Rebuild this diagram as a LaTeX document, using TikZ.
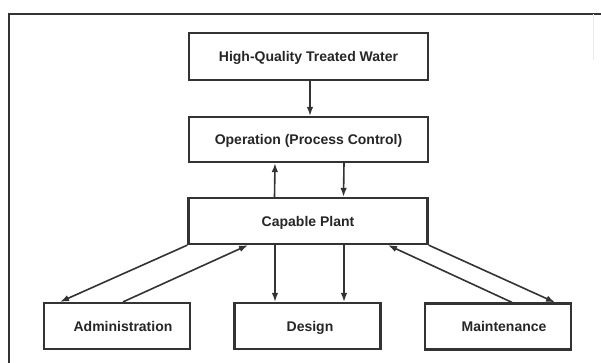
\documentclass[tikz,border=0pt]{standalone}
\usepackage{fontspec}
\setmainfont{Liberation Sans}
\usetikzlibrary{arrows.meta}
\definecolor{ink}{HTML}{333333}
\definecolor{txt}{HTML}{262626}
\begin{document}
\begin{tikzpicture}[x=1pt,y=-1pt,
  box/.style={draw=ink, line width=2.2pt, inner sep=0pt, text=txt,
    text height=10pt, text depth=0pt,
    font=\fontsize{14}{16}\selectfont\bfseries},
  topbox/.style={box, minimum width=239pt},
  lowbox/.style={box, minimum width=146pt, minimum height=46pt},
  link/.style={draw=ink, line width=1.6pt, -{Latex[length=9pt,width=6.5pt]}}]
  \useasboundingbox (0,0) rectangle (601,363);
  \fill[white] (0,0) rectangle (601,363);
  % outer frame (top and left sides)
  \draw[ink, line width=2.8pt] (9,363) -- (9,14) -- (601,14);
  \draw[black!8, line width=0.8pt] (593,14) -- (593,60);

  % boxes
  \node[topbox, minimum height=47pt] (hq) at (308.5,56.5) {High-Quality Treated Water};
  \node[topbox, minimum height=45pt] (op) at (308.5,139.5) {Operation (Process Control)};
  \node[topbox, minimum height=46pt] (pl) at (308,221) {Capable Plant};
  \node[lowbox] (ad) at (117,326) {\hspace*{12pt}Administration};
  \node[lowbox] (de) at (307.5,326) {\hspace*{5pt}Design};
  \node[lowbox] (mn) at (498,326.5) {\hspace*{12pt}Maintenance};

  % connectors
  \draw[link] ([xshift=1.5pt]hq.south) -- ([xshift=1.5pt]op.north);
  \draw[link] ([xshift=-33.5pt]pl.north) -- ([xshift=-33.5pt]op.south);
  \draw[link] ([xshift=35.5pt]op.south) -- ([xshift=35.5pt]pl.north);
  \draw[link] ([xshift=-33pt]pl.south) -- ([xshift=-32.5pt]de.north);
  \draw[link] ([xshift=36pt]pl.south) -- ([xshift=36.5pt]de.north);
  \draw[link] (pl.south west) -- ([xshift=-57pt]ad.north);
  \draw[link] ([xshift=6pt]ad.north) -- ([xshift=-60pt]pl.south);
  \draw[link] ([xshift=14pt]mn.north) -- ([xshift=80pt]pl.south);
  \draw[link] (pl.south east) -- ([xshift=57pt]mn.north);
\end{tikzpicture}
\end{document}
